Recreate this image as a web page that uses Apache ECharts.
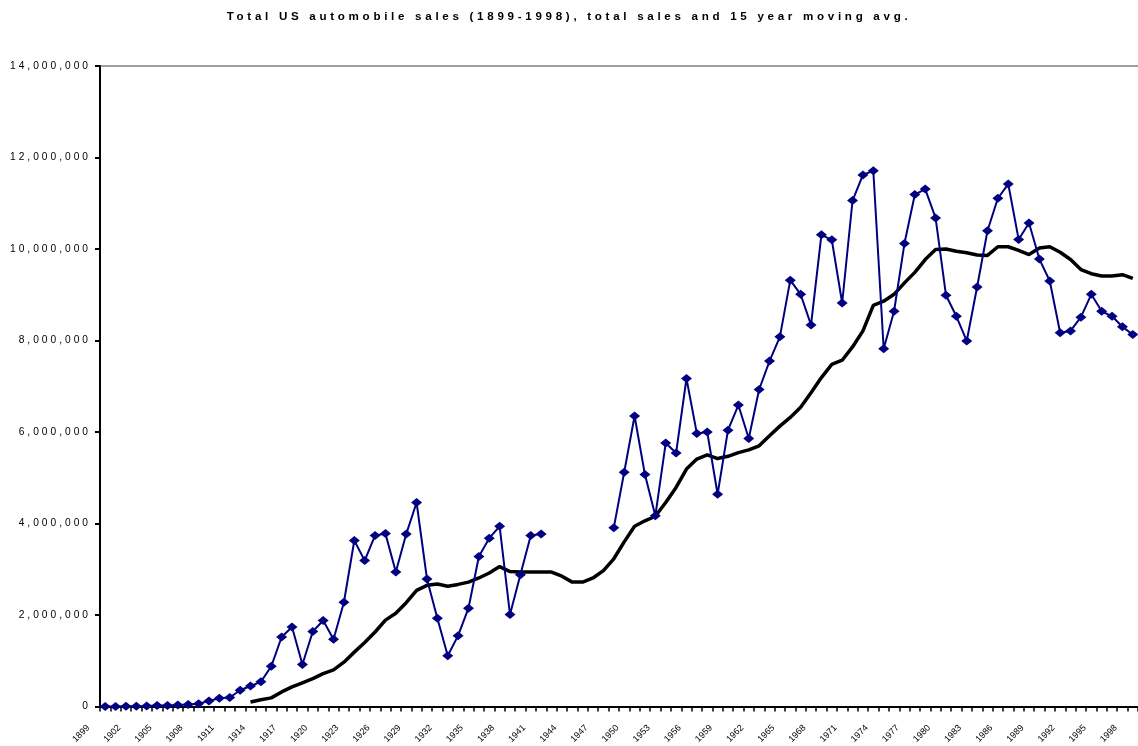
<!DOCTYPE html>
<html>
<head>
<meta charset="utf-8">
<script src="https://cdn.jsdelivr.net/npm/echarts@6/dist/echarts.min.js"></script>
<style>
html,body{margin:0;padding:0;background:#fff;}
#chart{width:1138px;height:746px;}
</style>
</head>
<body>
<div id="chart"></div>
<script>
var years = [];
for (var y = 1899; y <= 1998; y++) { years.push(String(y)); }

var totalSales = [
  2500, 4000, 7000, 9000, 11000, 22000, 24000, 33000, 43000, 63000,
  124000, 181000, 199000, 356000, 450000, 540000, 880000, 1520000, 1740000, 920000,
  1640000, 1880000, 1470000, 2280000, 3630000, 3190000, 3740000, 3780000, 2940000, 3770000,
  4460000, 2790000, 1930000, 1110000, 1550000, 2150000, 3280000, 3680000, 3940000, 2010000,
  2880000, 3740000, 3770000,
  null, null, null, null, null, null,
  3910000, 5120000, 6350000, 5070000, 4170000, 5760000, 5540000, 7170000, 5970000, 6000000,
  4640000, 6040000, 6590000, 5860000, 6930000, 7550000, 8080000, 9320000, 9010000, 8340000,
  10310000, 10200000, 8820000, 11060000, 11620000, 11710000, 7820000, 8640000, 10120000, 11190000,
  11310000, 10680000, 8990000, 8530000, 7990000, 9170000, 10400000, 11110000, 11420000, 10210000,
  10570000, 9780000, 9300000, 8170000, 8210000, 8510000, 9010000, 8640000, 8530000, 8300000,
  8130000
];

var movingAvg15 = [
  null, null, null, null, null, null, null, null, null, null, null, null, null, null,
  100000, 150000, 190000, 320000, 430000, 520000, 610000, 720000, 800000, 970000,
  1190000, 1400000, 1630000, 1890000, 2040000, 2270000, 2540000, 2650000, 2680000, 2630000,
  2670000, 2720000, 2810000, 2920000, 3060000, 2950000, 2940000, 2940000, 2940000, 2940000,
  2850000, 2720000, 2720000, 2810000, 2970000, 3230000, 3600000, 3940000, 4060000, 4160000,
  4460000, 4790000, 5190000, 5410000, 5500000, 5420000, 5470000, 5550000, 5610000, 5700000,
  5920000, 6130000, 6320000, 6540000, 6860000, 7190000, 7480000, 7570000, 7860000, 8210000,
  8770000, 8860000, 9010000, 9260000, 9490000, 9770000, 9990000, 10000000, 9950000, 9920000,
  9870000, 9860000, 10050000, 10050000, 9970000, 9880000, 10020000, 10050000, 9930000, 9770000,
  9550000, 9460000, 9410000, 9410000, 9440000, 9360000
];

var yTicks = [0, 2000000, 4000000, 6000000, 8000000, 10000000, 12000000, 14000000];

// Letter spacing for the title and value-axis labels (the reference uses spaced-out text).
(function () {
  var P = window.CanvasRenderingContext2D && CanvasRenderingContext2D.prototype;
  if (!P || !('letterSpacing' in P)) { return; }
  function spacingFor(font) {
    font = String(font || '');
    if (font.indexOf('11.6px') >= 0) { return '3.7px'; }
    if (font.indexOf('10.2px') >= 0) { return '3px'; }
    return '0px';
  }
  var ft = P.fillText, st = P.strokeText, mt = P.measureText;
  P.fillText = function () { this.letterSpacing = spacingFor(this.font); return ft.apply(this, arguments); };
  P.strokeText = function () { this.letterSpacing = spacingFor(this.font); return st.apply(this, arguments); };
  P.measureText = function () { this.letterSpacing = spacingFor(this.font); return mt.apply(this, arguments); };
})();

var chart = echarts.init(document.getElementById('chart'), null, {renderer: 'canvas'});
var splitColors = yTicks.map(function (v, i) { return i === yTicks.length - 1 ? '#a0a0a0' : 'rgba(0,0,0,0)'; });

chart.setOption({
  animation: false,
  backgroundColor: '#ffffff',
  title: {
    text: 'Total US automobile sales (1899-1998), total sales and 15 year moving avg.',
    left: 'center',
    top: 4,
    textStyle: {fontFamily: 'Liberation Sans, Arial, sans-serif', fontSize: 11.6, fontWeight: 'bold', color: '#000'}
  },
  grid: {left: 100, right: 0, top: 66, bottom: 38, containLabel: false},
  xAxis: {
    type: 'category',
    data: years,
    boundaryGap: true,
    axisLine: {lineStyle: {color: '#000', width: 2}},
    axisTick: {show: true, interval: 0, length: 5, lineStyle: {color: '#000', width: 1.5}},
    axisLabel: {
      interval: 2,
      rotate: 45,
      margin: 3,
      padding: [0, 24, 0, 0],
      fontSize: 9,
      fontFamily: 'Liberation Sans, Arial, sans-serif',
      color: '#000'
    },
    splitLine: {show: false}
  },
  yAxis: {
    type: 'value',
    min: 0,
    max: 14000000,
    interval: 2000000,
    axisLine: {show: true, lineStyle: {color: '#000', width: 2}},
    axisTick: {show: true, length: 5, lineStyle: {color: '#000', width: 2}},
    axisLabel: {
      fontSize: 10.2,
      fontFamily: 'Liberation Sans, Arial, sans-serif',
      color: '#000',
      margin: 9,
      formatter: function (v) { return v.toLocaleString('en-US'); }
    },
    splitLine: {show: true, lineStyle: {color: splitColors, width: 2}}
  },
  series: [
    {
      name: 'Total sales',
      type: 'line',
      data: totalSales,
      connectNulls: false,
      symbol: 'diamond',
      symbolSize: [11, 9],
      showAllSymbol: true,
      lineStyle: {color: '#000080', width: 2},
      itemStyle: {color: '#000080', borderWidth: 0},
      z: 3
    },
    {
      name: '15 year moving avg.',
      type: 'line',
      data: movingAvg15,
      showSymbol: false,
      symbol: 'none',
      lineStyle: {color: '#000', width: 3.5},
      z: 2
    }
  ]
});
</script>
</body>
</html>
